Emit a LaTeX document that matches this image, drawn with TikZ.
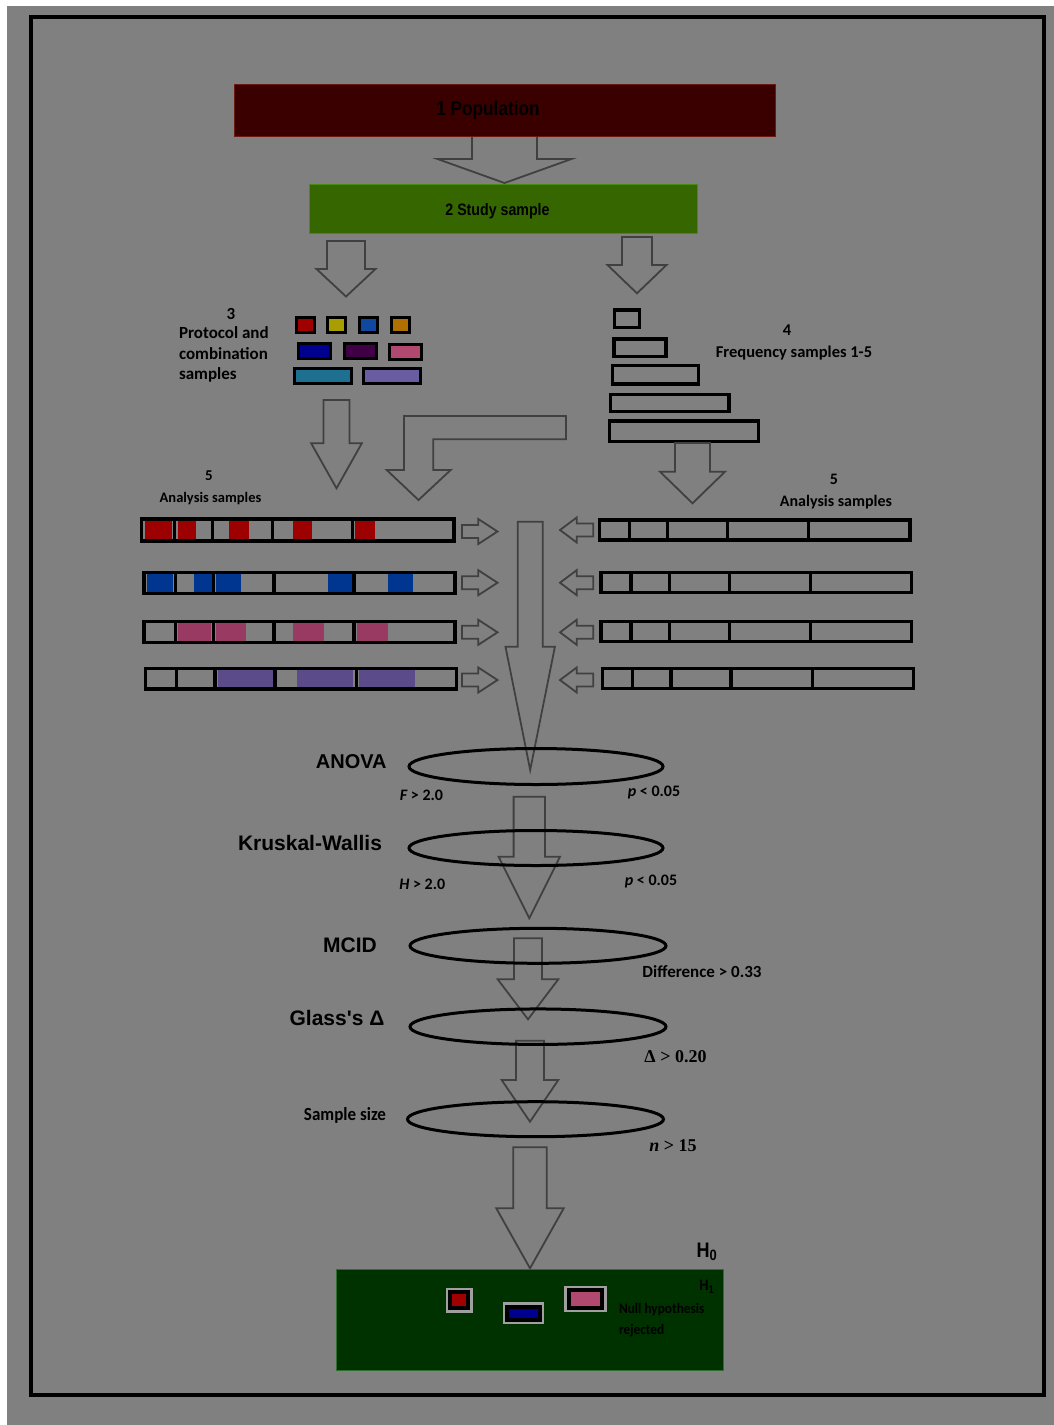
\documentclass[tikz,border=0pt]{standalone}
\usepackage{fontspec}
\setmainfont{Carlito}
\newfontfamily\arialf{Liberation Sans}
\newfontfamily\arialnarrow[FakeStretch=0.86]{Liberation Sans}
\newfontfamily\carlitonarrow[FakeStretch=0.92]{Carlito}
\newfontfamily\timesf{Liberation Serif}
\usetikzlibrary{shapes.geometric}

\definecolor{bggray}{HTML}{808080}
\definecolor{arrowgray}{HTML}{404040}
\definecolor{popfill}{HTML}{3A0000}
\definecolor{popline}{HTML}{6A1A10}
\definecolor{studyfill}{HTML}{356600}
\definecolor{studyline}{HTML}{4C8A10}
\definecolor{resultfill}{HTML}{003200}
\definecolor{resultline}{HTML}{2E6E2E}
\definecolor{ringgray}{HTML}{A0A0A0}
\definecolor{cred}{HTML}{A00000}
\definecolor{cyellow}{HTML}{A89E00}
\definecolor{cblue}{HTML}{1048A0}
\definecolor{corange}{HTML}{B07000}
\definecolor{cnavy}{HTML}{000090}
\definecolor{cplum}{HTML}{400045}
\definecolor{cpink}{HTML}{B04870}
\definecolor{cteal}{HTML}{1D7090}
\definecolor{clav}{HTML}{6A5CA0}
\definecolor{barred}{HTML}{9C0000}
\definecolor{barblue}{HTML}{003590}
\definecolor{barpink}{HTML}{983A62}
\definecolor{barpurple}{HTML}{5B4B8B}

\tikzset{
  blockarrow/.style={draw=arrowgray, line width=1.8pt, line join=miter},
  barline/.style={draw=black, line width=3.4pt},
  chip/.style={draw=black, line width=3pt},
  testring/.style={ellipse, draw=black, line width=3pt, inner sep=0pt},
  popbox/.style={rectangle, draw=popline, fill=popfill, line width=1pt,
    minimum width=541.5pt, minimum height=52pt, inner sep=0pt},
  studybox/.style={rectangle, draw=studyline, fill=studyfill, line width=1pt,
    minimum width=388pt, minimum height=49pt, inner sep=0pt},
  resultbox/.style={rectangle, draw=resultline, fill=resultfill, line width=1pt,
    minimum width=387pt, minimum height=101.5pt, inner sep=0pt},
  txt/.style={inner sep=0pt, outer sep=0pt, text=black},
  poptext/.style={txt, font={\arialnarrow\bfseries\fontsize{20}{22}\selectfont}},
  studytext/.style={txt, font={\arialnarrow\bfseries\fontsize{16.5}{18}\selectfont}},
  smalltext/.style={txt, font={\bfseries\fontsize{17}{20.5}\selectfont}},
  freqtext/.style={txt, font={\bfseries\fontsize{16.5}{20}\selectfont}},
  testtext/.style={txt, font={\arialf\bfseries\fontsize{21}{24}\selectfont}},
  critext/.style={txt, font={\bfseries\fontsize{16}{18}\selectfont}},
  serifcrit/.style={txt, font={\timesf\bfseries\fontsize{18}{20}\selectfont}},
}

% hollow block arrow pointing down: x centre, top, shaft half width, head base, head half width, tip
\newcommand{\blockdown}[6]{%
  \path[blockarrow] (#1-#3,#2) -- (#1+#3,#2) -- (#1+#3,#4) -- (#1+#5,#4) -- (#1,#6)
    -- (#1-#5,#4) -- (#1-#3,#4) -- cycle;}
% hollow block arrow pointing sideways: tail x, head base x, tip x, y centre
\newcommand{\blockside}[4]{%
  \path[blockarrow] (#1,#4-6.5) -- (#2,#4-6.5) -- (#2,#4-12.5) -- (#3,#4)
    -- (#2,#4+12.5) -- (#2,#4+6.5) -- (#1,#4+6.5) -- cycle;}
% sample bar with coloured cells: x1, y1, x2, y2, dividers, colour, cell spans
\newcommand{\samplebar}[7]{%
  \foreach \fa/\fb in {#7} {\fill[#6] (\fa,#2) rectangle (\fb,#4);}
  \draw[barline] (#1,#2) rectangle (#3,#4);
  \foreach \dx in {#5} {\draw[barline] (\dx,#2) -- (\dx,#4);}}
% empty sample bar: x1, y1, x2, y2, dividers
\newcommand{\plainbar}[5]{%
  \draw[barline] (#1,#2) rectangle (#3,#4);
  \foreach \dx in {#5} {\draw[barline] (\dx,#2) -- (\dx,#4);}}
% framed chip: x1, y1, x2, y2, colour
\newcommand{\resultchip}[5]{%
  \fill[ringgray] (#1,#2) rectangle (#3,#4);
  \fill[black] (#1+2.3,#2+2.3) rectangle (#3-2.3,#4-2.3);
  \fill[#5] (#1+6.3,#2+6.3) rectangle (#3-6.3,#4-6.3);}

\begin{document}
\begin{tikzpicture}[x=1pt,y=-1pt]
\useasboundingbox (0,0) rectangle (1054,1425);
\fill[white] (0,0) rectangle (1054,1425);
\fill[bggray] (7,6) rectangle (1054,1425);
\draw[line width=4pt, black] (31.3,17) rectangle (1043.7,1395.3);

% 1 and 2
\blockdown{504.5}{136}{32.5}{159}{67}{183}
\node[popbox] (pop) at (504.75,110) {};
\node[poptext] (poplabel) at (488,110) {1 Population};
\node[studybox] (study) at (503,208.8) {};
\node[studytext] (studylabel) at (497.5,211.5) {2 Study sample};

% branches
\blockdown{346}{241}{19}{269}{29.5}{296.5}
\blockdown{637}{237}{15}{265}{29.5}{293.3}

% 3 protocol and combination samples
\node[smalltext] (num3) at (231,314) {3};
\node[smalltext, anchor=west, align=left] (protocol) at (179,354.5) {Protocol and\\combination\\samples};
\draw[chip, fill=cred]    (296.5,317.5) rectangle (314.5,332.5);
\draw[chip, fill=cyellow] (327.2,317.5) rectangle (345.2,332.5);
\draw[chip, fill=cblue]   (359.2,317.5) rectangle (377.5,332.5);
\draw[chip, fill=corange] (391.5,317.5) rectangle (409.5,332.5);
\draw[chip, fill=cnavy]   (298.2,343.2) rectangle (330.2,358.5);
\draw[chip, fill=cplum]   (344.8,343.2) rectangle (376.8,358.5);
\draw[chip, fill=cpink]   (389.8,344.2) rectangle (421.8,359.2);
\draw[chip, fill=cteal]   (294.8,368.2) rectangle (351.8,383.5);
\draw[chip, fill=clav]    (363.2,368.2) rectangle (420.2,383.5);

% 4 frequency samples
\node[freqtext] (num4) at (787,330) {4};
\node[freqtext] (freq) at (794,353) {Frequency samples 1-5};
\draw[barline] (614.4,310) rectangle (639.3,327.6);
\draw[barline] (614,339) rectangle (666,356.6);
\draw[barline] (612.7,365.7) rectangle (698.3,384);
\draw[barline] (610.7,394.4) rectangle (729,411.6);
\draw[barline] (609.4,421) rectangle (758.3,441.6);

% flows into the analysis samples
\blockdown{336.5}{400}{13}{443.3}{25.3}{488.3}
\path[blockarrow] (566,416) -- (404,416) -- (404,470) -- (386.7,470) -- (418.5,500)
  -- (450.7,470) -- (433.3,470) -- (433.3,439.3) -- (566,439.3) -- cycle;
\blockdown{692.5}{443}{17.5}{471.7}{32.5}{503.3}

% 5 analysis samples
\node[txt, font={\bfseries\fontsize{15}{18}\selectfont}] (num5l) at (209,476) {5};
\node[txt, font={\bfseries\fontsize{14.5}{18}\selectfont}] (anl) at (210.5,499) {Analysis samples};
\node[txt, font={\bfseries\fontsize{16}{18}\selectfont}] (num5r) at (834,479) {5};
\node[txt, font={\bfseries\fontsize{16}{18}\selectfont}] (anr) at (836,501.7) {Analysis samples};

\samplebar{141.7}{519}{454}{541}{174.3,212.3,272.7,352.7}{barred}%
  {145/171.7,177.7/196,229.3/249.3,292.7/311.7,355/375}
\samplebar{144}{572.4}{455}{593.3}{175.7,213.3,274,354}{barblue}%
  {146.7/173.3,194.3/211.7,216/241,327.7/352.7,388.3/413.3}
\samplebar{144}{621.7}{455}{642.3}{175.7,213.3,274,354}{barpink}%
  {177.7/211,216/246,293.3/324.3,356.7/387.7}
\samplebar{145.7}{668.4}{456.6}{689}{176.7,215,275,356.7}{barpurple}%
  {217.7/273.3,296.7/353.3,359/415}

\plainbar{599.4}{520}{910}{540}{629.3,667.7,727.7,808.3}
\plainbar{601}{572.4}{911.6}{592.3}{631,669.3,729.3,810.7}
\plainbar{601}{621.7}{911.6}{641.6}{631,669.3,729.3,810.7}
\plainbar{602.7}{668.4}{913.3}{688.3}{632.7,671,731,812.7}

\blockside{462}{478.3}{497.5}{531.5}
\blockside{462}{478.3}{497.5}{582.7}
\blockside{462}{478.3}{497.5}{632.3}
\blockside{462}{478.3}{497.5}{680}
\blockside{593.3}{576.7}{560}{530}
\blockside{593.3}{576.7}{560}{582.7}
\blockside{593.3}{576.7}{560}{632.3}
\blockside{593.3}{576.7}{560}{680}

% statistical filters
\blockdown{530.2}{521.7}{12.5}{646.7}{24.7}{770}
\blockdown{529.3}{796.7}{15.7}{856.7}{30.7}{918.3}
\blockdown{528}{938.3}{14}{979.3}{30.3}{1019.3}
\blockdown{530}{1040.7}{14}{1080}{28.3}{1121.7}
\blockdown{530}{1147.3}{16.7}{1208.3}{33.7}{1268.3}

\node[testring, minimum width=254pt, minimum height=36pt] (anova) at (536,766.5) {};
\node[testring, minimum width=254pt, minimum height=35pt] (kw) at (536,848) {};
\node[testring, minimum width=256pt, minimum height=35pt] (mcid) at (538,945.8) {};
\node[testring, minimum width=256pt, minimum height=35.5pt] (glass) at (538,1026.7) {};
\node[testring, minimum width=256pt, minimum height=35pt] (size) at (535.5,1119.2) {};

\node[testtext, font={\arialf\bfseries\fontsize{20}{22}\selectfont}] (anovalabel) at (351.3,762) {ANOVA};
\node[critext] (fcrit) at (421.5,795) {\itshape F\upshape\ > 2.0};
\node[critext] (pcrit1) at (654,792.7) {\itshape p\upshape\ < 0.05};
\node[testtext] (kwlabel) at (310,842.7) {Kruskal-Wallis};
\node[critext] (hcrit) at (422.3,884) {\itshape H\upshape\ > 2.0};
\node[critext] (pcrit2) at (651,881.7) {\itshape p\upshape\ < 0.05};
\node[testtext] (mcidlabel) at (350,945) {MCID};
\node[txt, font={\bfseries\fontsize{17}{20}\selectfont}] (diff) at (702,971.7) {Difference > 0.33};
\node[testtext] (glasslabel) at (337,1018.3) {Glass's Δ};
\node[serifcrit] (dcrit) at (675.5,1056.7) {Δ > 0.20};
\node[txt, font={\carlitonarrow\bfseries\fontsize{18.5}{20}\selectfont}] (sizelabel) at (345,1115) {Sample size};
\node[serifcrit] (ncrit) at (673,1146) {\itshape n\upshape\ > 15};

% outcome
\node[resultbox] (result) at (529.65,1319.85) {};
\resultchip{446}{1287.7}{472.7}{1312.7}{cred}
\resultchip{502.7}{1302.3}{544}{1324.3}{cnavy}
\resultchip{564.3}{1285.7}{606.7}{1312.3}{cpink}
\node[txt, font={\arialnarrow\bfseries\fontsize{21}{22}\selectfont}] (h0) at (706.7,1252) {H\raisebox{-3pt}{\fontsize{15}{15}\selectfont 0}};
\node[txt, font={\arialnarrow\bfseries\fontsize{15}{16}\selectfont}] (h1) at (706.7,1287) {H\raisebox{-2.5pt}{\fontsize{11}{11}\selectfont 1}};
\node[txt, anchor=west, align=left, font={\carlitonarrow\bfseries\fontsize{14.5}{20.7}\selectfont}] (reject) at (619,1320.3) {Null hypothesis\\rejected};
\end{tikzpicture}
\end{document}
